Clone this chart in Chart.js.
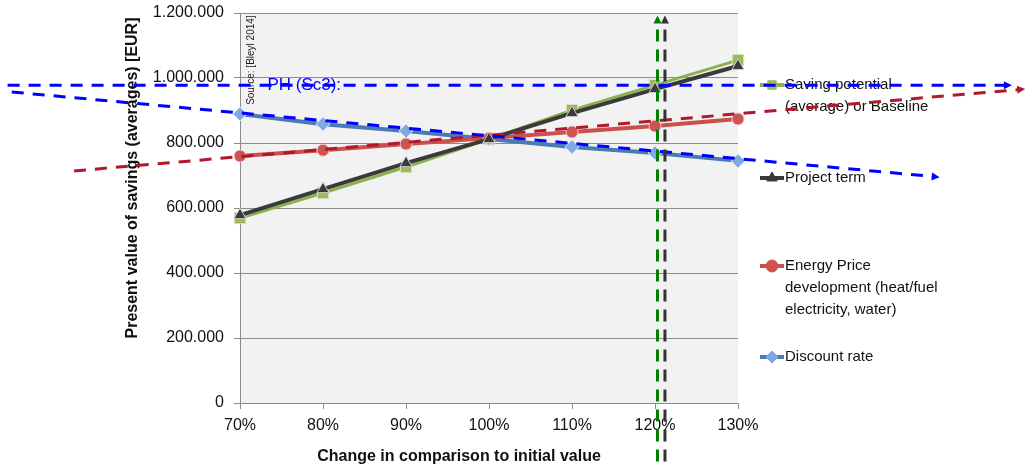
<!DOCTYPE html>
<html>
<head>
<script src="https://cdn.jsdelivr.net/npm/chart.js"></script>
<style>
  html, body { margin: 0; padding: 0; background: #fff; }
  #wrap { width: 1027px; height: 469px; }
</style>
</head>
<body>
<div id="wrap"><canvas id="chart" width="1027" height="469"></canvas></div>
<script>
// change in comparison to initial value (%)
const changes = [70, 80, 90, 100, 110, 120, 130];
const savingPotential = [569000, 646000, 726000, 812000, 901000, 978000, 1055000];
const projectTerm = [578000, 658000, 738000, 812000, 892000, 966000, 1037000];
const energyPrice = [760000, 778000, 797000, 815000, 834000, 852000, 874000];
const discountRate = [889000, 858000, 837000, 812000, 788000, 769000, 745000];

const seriesNames = ["Saving potential (average) or Baseline", "Project term",
  "Energy Price development (heat/fuel electricity, water)", "Discount rate"];
const legendLines = [["Saving potential", "(average) or Baseline"], ["Project term"],
  ["Energy Price", "development (heat/fuel", "electricity, water)"], ["Discount rate"]];

// hand drawn arrows on top of the chart, in data units [x %, EUR]
const phLine = [[42.0, 978000], [163.0, 978000]];
const blueSlope = [[42.5, 957000], [154.3, 695000]];
const redSlope = [[50.0, 714000], [164.6, 966000]];
const greenVertical = [[120.3, -180000], [120.3, 1192000]];
const blackVertical = [[121.2, -180000], [121.2, 1192000]];
const phLabel = [73.3, 978000];
const sourceLabel = [71.4, 1055000];

const FONT = "'Liberation Sans', Arial, sans-serif";
const fmt = v => String(v).replace(/\B(?=(\d{3})+(?!\d))/g, ".");
const pts = vals => changes.map((c, i) => ({ x: c, y: vals[i] }));

const px = (chart, p) => [chart.scales.x.getPixelForValue(p[0]), chart.scales.y.getPixelForValue(p[1])];

function dashedArrow(ctx, a, b, color, dash, width) {
  ctx.save();
  ctx.strokeStyle = color;
  ctx.lineWidth = width;
  ctx.setLineDash(dash);
  const ang = Math.atan2(b[1] - a[1], b[0] - a[0]);
  ctx.beginPath();
  ctx.moveTo(a[0], a[1]);
  ctx.lineTo(b[0] - 6 * Math.cos(ang), b[1] - 6 * Math.sin(ang));
  ctx.stroke();
  ctx.setLineDash([]);
  ctx.fillStyle = color;
  ctx.beginPath();
  ctx.moveTo(b[0], b[1]);
  ctx.lineTo(b[0] - 8 * Math.cos(ang) + 4 * Math.sin(ang), b[1] - 8 * Math.sin(ang) - 4 * Math.cos(ang));
  ctx.lineTo(b[0] - 8 * Math.cos(ang) - 4 * Math.sin(ang), b[1] - 8 * Math.sin(ang) + 4 * Math.cos(ang));
  ctx.closePath();
  ctx.fill();
  ctx.restore();
}

const plotBg = {
  id: "plotBg",
  beforeDraw(chart) {
    const { ctx, chartArea: a } = chart;
    ctx.save();
    ctx.fillStyle = "#f2f2f2";
    ctx.fillRect(a.left, a.top, a.right - a.left, a.bottom - a.top);
    ctx.restore();
  }
};

const extras = {
  id: "extras",
  afterDraw(chart) {
    const { ctx, chartArea: a } = chart;
    ctx.save();

    // axis titles
    ctx.fillStyle = "#111";
    ctx.font = "bold 16px " + FONT;
    ctx.textAlign = "center";
    ctx.textBaseline = "middle";
    ctx.fillText("Change in comparison to initial value", 459, 457);
    ctx.save();
    ctx.translate(133, 178);
    ctx.rotate(-Math.PI / 2);
    ctx.fillText("Present value of savings (averages) [EUR]", 0, 0);
    ctx.restore();

    // source note
    const s = px(chart, sourceLabel);
    ctx.save();
    ctx.translate(s[0], s[1]);
    ctx.rotate(-Math.PI / 2);
    ctx.font = "10px " + FONT;
    ctx.fillStyle = "#222";
    ctx.fillText("Source: [Bleyl 2014]", 0, 0);
    ctx.restore();

    // legend
    const rows = [85, 178, 266, 357];
    chart.data.datasets.forEach((ds, i) => {
      const y = rows[i];
      const x0 = a.right + 22, x1 = a.right + 46;
      ctx.save();
      ctx.strokeStyle = ds.borderColor;
      ctx.lineWidth = 4;
      ctx.beginPath();
      ctx.moveTo(x0, y);
      ctx.lineTo(x1, y);
      ctx.stroke();
      ctx.fillStyle = ds.pointBackgroundColor;
      ctx.strokeStyle = ds.pointBackgroundColor;
      ctx.lineWidth = 1;
      Chart.helpers.drawPoint(ctx, { pointStyle: ds.pointStyle, radius: 6, borderWidth: 1, rotation: 0 }, (x0 + x1) / 2, y);
      ctx.restore();
      ctx.font = "15px " + FONT;
      ctx.fillStyle = "#111";
      ctx.textAlign = "left";
      legendLines[i].forEach((t, k) => ctx.fillText(t, x1 + 1, y + k * 22));
    });

    // PH label
    const p = px(chart, phLabel);
    ctx.font = "17px " + FONT;
    ctx.fillStyle = "#0000ff";
    ctx.textAlign = "left";
    ctx.fillText("PH (Sc3):", p[0], p[1]);
    ctx.restore();

    // hand drawn arrows
    dashedArrow(ctx, px(chart, redSlope[0]), px(chart, redSlope[1]), "#b0192c", [12, 9], 3);
    dashedArrow(ctx, px(chart, blueSlope[0]), px(chart, blueSlope[1]), "#0000ff", [12, 9], 3);
    dashedArrow(ctx, px(chart, phLine[0]), px(chart, phLine[1]), "#0000ff", [12, 9], 3);
    dashedArrow(ctx, px(chart, greenVertical[0]), px(chart, greenVertical[1]), "#008000", [12, 8], 3);
    dashedArrow(ctx, px(chart, blackVertical[0]), px(chart, blackVertical[1]), "#333333", [12, 8], 3);
  }
};

new Chart(document.getElementById("chart"), {
  type: "line",
  data: {
    datasets: [
      { label: seriesNames[0], data: pts(savingPotential), borderColor: "#8db04e", borderWidth: 3,
        pointStyle: "rect", pointRadius: 8, pointBorderWidth: 1,
        pointBackgroundColor: "#9bbb59", pointBorderColor: "#d9e4c4", order: 3 },
      { label: seriesNames[1], data: pts(projectTerm), borderColor: "#3a3a3a", borderWidth: 4,
        pointStyle: "triangle", pointRadius: 7, pointBorderWidth: 1,
        pointBackgroundColor: "#3a3a3a", pointBorderColor: "#cfcfcf", order: 0 },
      { label: seriesNames[2], data: pts(energyPrice), borderColor: "#c9504c", borderWidth: 4,
        pointStyle: "circle", pointRadius: 6, pointBorderWidth: 1,
        pointBackgroundColor: "#cd5450", pointBorderColor: "#efc8c6", order: 1 },
      { label: seriesNames[3], data: pts(discountRate), borderColor: "#4a7ab4", borderWidth: 4,
        pointStyle: "rectRot", pointRadius: 7, pointBorderWidth: 1,
        pointBackgroundColor: "#7eaae2", pointBorderColor: "#dbe6f4", order: 2 }
    ]
  },
  options: {
    responsive: false,
    animation: false,
    clip: false,
    layout: { padding: { left: 0, right: 289, top: 13, bottom: 0 } },
    plugins: { legend: { display: false }, tooltip: { enabled: false } },
    elements: { line: { tension: 0 } },
    scales: {
      x: {
        type: "linear", min: 70, max: 130,
        afterBuildTicks: s => { s.ticks = changes.map(v => ({ value: v })); },
        afterFit: s => { s.height = 66; s.paddingLeft = 0; s.paddingRight = 0; },
        grid: { drawOnChartArea: false, color: "#8c8c8c", tickLength: 6 },
        border: { color: "#8c8c8c" },
        ticks: { padding: 7, color: "#111", font: { family: FONT, size: 16 }, callback: v => v + "%", maxRotation: 0 }
      },
      y: {
        min: 0, max: 1200000,
        afterFit: s => { s.width = 240; s.paddingTop = 0; s.paddingBottom = 0; },
        grid: { color: "#8c8c8c", tickLength: 6 },
        border: { color: "#8c8c8c" },
        ticks: { stepSize: 200000, padding: 10, color: "#111", font: { family: FONT, size: 16 }, callback: v => fmt(v) }
      }
    }
  },
  plugins: [plotBg, extras]
});
</script>
</body>
</html>
